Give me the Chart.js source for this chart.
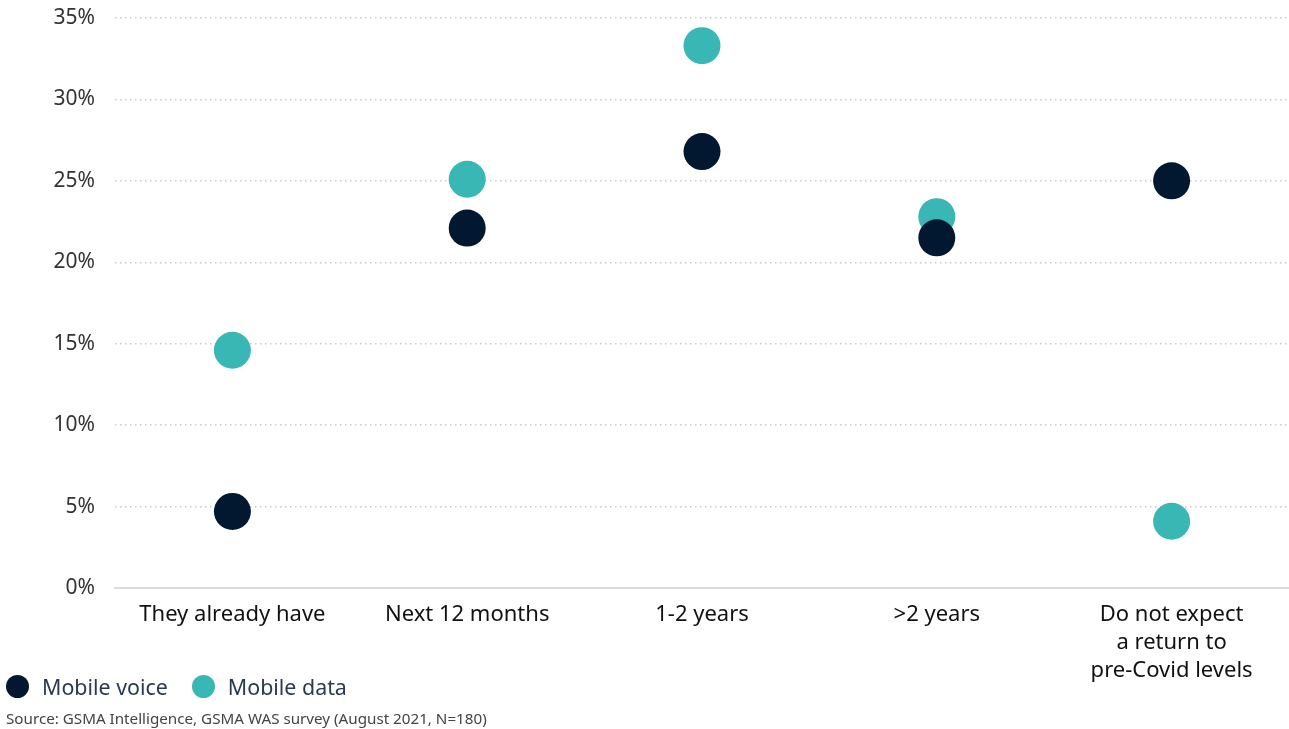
<!DOCTYPE html>
<html>
<head>
<meta charset="utf-8">
<script src="https://cdn.jsdelivr.net/npm/chart.js@4.4.1/dist/chart.umd.min.js"></script>
<style>
  html, body { margin: 0; padding: 0; background: #ffffff; }
  body { width: 1289px; height: 729px; position: relative; overflow: hidden; font-family: "Noto Sans", Roboto, sans-serif; }
  #wrap { position: absolute; left: 0; top: 0; width: 1289px; height: 729px; }
  #legend { position: absolute; left: 6px; top: 672px; display: flex; align-items: center; font-size: 21.4px; color: #2b3a4e; }
  .item { display: flex; align-items: center; margin-right: 24px; }
  .dot { width: 23px; height: 23px; border-radius: 50%; margin-right: 13px; }
  #source { position: absolute; left: 6px; top: 708px; font-size: 15.2px; color: #444; }
</style>
</head>
<body>
<div id="wrap"><canvas id="chart" width="1289" height="729"></canvas></div>
<div id="legend"></div>
<div id="source">Source: GSMA Intelligence, GSMA WAS survey (August 2021, N=180)</div>
<script>
// Survey: expected timing of return to pre-Covid mobile usage (% of respondents)
const categories = [
  'They already have',
  'Next 12 months',
  '1-2 years',
  '>2 years',
  ['Do not expect', 'a return to', 'pre-Covid levels']
];
const mobileVoice = [4.7, 22.1, 26.8, 21.5, 25.0];
const mobileData  = [14.6, 25.1, 33.3, 22.8, 4.1];
const yTicks = [0, 5, 10, 15, 20, 25, 30, 35];

const seriesNames = ['Mobile voice', 'Mobile data'];
const seriesColors = ['#021830', '#38b7b4'];

const datasets = [mobileVoice, mobileData].map((vals, i) => ({
  label: seriesNames[i],
  data: vals,
  backgroundColor: seriesColors[i],
  borderWidth: 0,
  pointRadius: 18.5,
  pointHoverRadius: 18.5,
  showLine: false,
  clip: false
}));

new Chart(document.getElementById('chart'), {
  type: 'line',
  data: { labels: categories, datasets },
  options: {
    responsive: false,
    animation: false,
    layout: { autoPadding: false, padding: { top: 18, right: 0, bottom: 0, left: 0 } },
    plugins: { legend: { display: false }, tooltip: { enabled: false } },
    scales: {
      x: {
        offset: true,
        grid: { display: false, drawTicks: false, offset: true },
        border: { display: true, color: '#dcdcdc', width: 2 },
        ticks: {
          color: '#111111',
          padding: 13,
          font: { family: 'Noto Sans', size: 22, lineHeight: 1.27 },
          maxRotation: 0,
          autoSkip: false
        },
        afterFit: s => {
          s.height = 141;
          s.paddingLeft = 0;
          s.paddingRight = 0;
        }
      },
      y: {
        min: 0,
        max: 35,
        afterBuildTicks: s => { s.ticks = yTicks.map(v => ({ value: v })); },
        grid: {
          drawTicks: false,
          color: c => (c.tick && c.tick.value === 0) ? 'rgba(0,0,0,0)' : '#c9c9c9',
          lineWidth: 1.5
        },
        border: { display: false, dash: [1.5, 3.5] },
        ticks: {
          color: '#333333',
          padding: 20,
          font: { family: 'Noto Sans', size: 21 },
          callback: v => v + '%'
        },
        afterFit: s => {
          s.width = 115;
          s.paddingTop = 0;
          s.paddingBottom = 0;
        }
      }
    }
  }
});

// Legend
const legend = document.getElementById('legend');
seriesNames.forEach((name, i) => {
  const item = document.createElement('div');
  item.className = 'item';
  const dot = document.createElement('span');
  dot.className = 'dot';
  dot.style.background = seriesColors[i];
  const txt = document.createElement('span');
  txt.textContent = name;
  item.appendChild(dot);
  item.appendChild(txt);
  legend.appendChild(item);
});
</script>
</body>
</html>
